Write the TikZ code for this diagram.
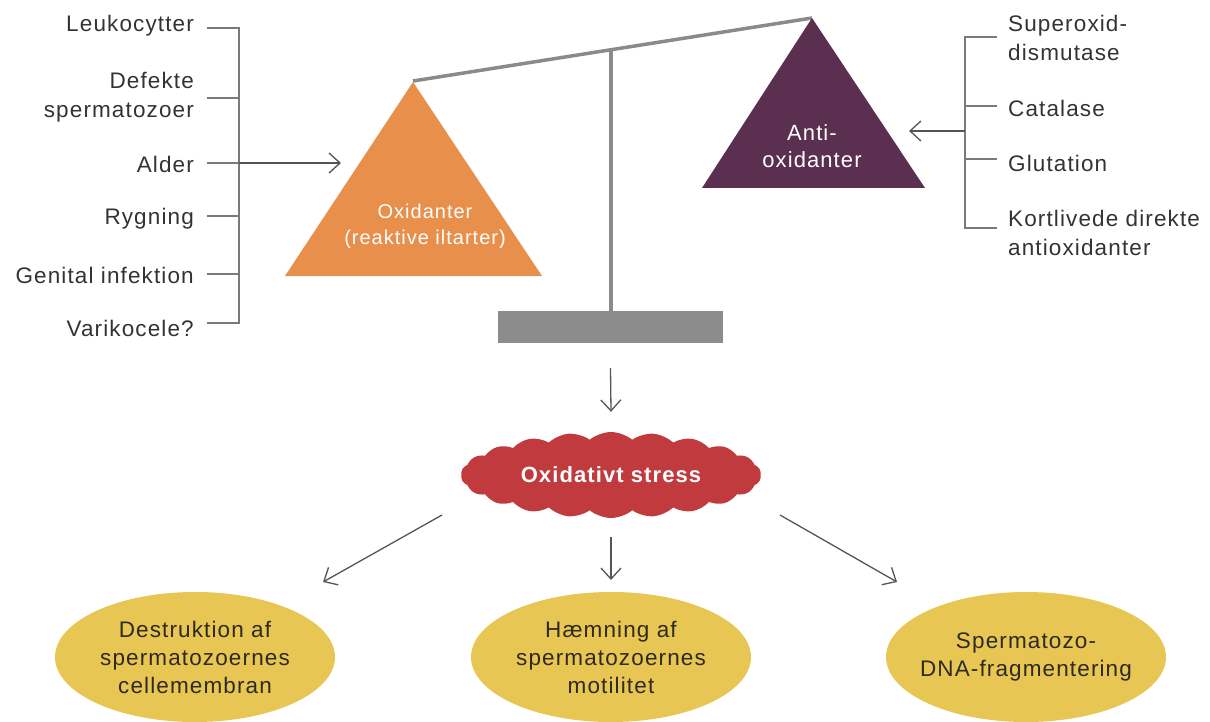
\documentclass[tikz,border=0pt]{standalone}
\usepackage{fontspec}
\setmainfont{Liberation Sans}[LetterSpace=5]
\usetikzlibrary{arrows.meta,shapes.symbols,shapes.geometric}
\definecolor{orng}{HTML}{E98F4C}
\definecolor{purp}{HTML}{5A2F50}
\definecolor{cloudred}{HTML}{C13B3E}
\definecolor{yel}{HTML}{E8C654}
\definecolor{beamgray}{HTML}{8A8A8A}
\definecolor{basegray}{HTML}{8C8C8C}
\definecolor{txt}{HTML}{333333}
\definecolor{etxt}{HTML}{2E2A1E}
\definecolor{brk}{HTML}{7A7A7A}
\definecolor{arrc}{HTML}{555555}
\begin{document}
\begin{tikzpicture}[x=1pt,y=-1pt,
  lbl/.style={font=\fontsize{22.5}{29}\selectfont, text=txt, inner sep=0pt},
  lbll/.style={lbl, anchor=east, align=right},
  lblr/.style={lbl, anchor=west, align=left},
  tritxt/.style={font=\fontsize{20}{26}\selectfont, text=white, align=center, inner sep=0pt},
  brace/.style={draw=brk, line width=1.3pt},
  arr/.style={draw=arrc, line width=1.3pt, -{Straight Barb[length=11pt,width=20pt,line width=1.3pt]}},
  effect/.style={ellipse, fill=yel, minimum width=280pt, minimum height=130pt, inner sep=0pt,
    align=center, text=etxt, font=\fontsize{22.5}{28}\selectfont},
  beam/.style={draw=beamgray, line width=3.5pt}]
\useasboundingbox (0,0) rectangle (1210,722);

% ---- left causes ----
\node[lbll] (leu) at (194,26) {Leukocytter};
\node[lbll] (def) at (194,97) {Defekte\\spermatozoer};
\node[lbll] (ald) at (194,164) {Alder};
\node[lbll] (ryg) at (194,219) {Rygning};
\node[lbll] (gen) at (194,275) {Genital infektion};
\node[lbll] (var) at (194,328) {Varikocele?};
\coordinate (lb1) at (239,28);
\coordinate (lb6) at (239,323);
\draw[brace] (207,28) -| (lb1) -- (lb6) -- (207,323);
\foreach \y in {98,163,216,274} \draw[brace] (207,\y) -- (239,\y);
\coordinate (lsrc) at (239,163);
\coordinate (ltip) at (341,163);
\draw[arr] (lsrc) -- (ltip);

% ---- balance ----
\coordinate (bl) at (413,81);
\coordinate (br) at (812,18);
\draw[beam] (bl) -- (br);
\draw[draw=beamgray, line width=3.5pt] (611,49) -- (611,312);
\node[fill=basegray, minimum width=225pt, minimum height=32pt, inner sep=0pt] (base) at (610.5,327) {};

\fill[orng] (413,82) -- (542,276) -- (285,276) -- cycle;
\node[tritxt] (ox) at (425,226) {Oxidanter\\(reaktive iltarter)};

\fill[purp] (812,18) -- (925,188) -- (702,188) -- cycle;
\node[tritxt, font=\fontsize{22}{27}\selectfont] (aox) at (812,146) {Anti-\\oxidanter};

% ---- right antioxidants ----
\node[lblr] (sod) at (1008,38) {Superoxid-\\dismutase};
\node[lblr] (cat) at (1008,108) {Catalase};
\node[lblr] (glu) at (1008,163) {Glutation};
\node[lblr] (kort) at (1008,233) {Kortlivede direkte\\antioxidanter};
\draw[brace] (997,37) -- (965,37) -- (965,228) -- (997,228);
\foreach \y in {106,159} \draw[brace] (965,\y) -- (997,\y);
\coordinate (rsrc) at (965,131);
\coordinate (rtip) at (909,131);
\draw[arr] (rsrc) -- (rtip);

% ---- oxidative stress ----
\node[cloud, cloud puffs=22, cloud puff arc=80, aspect=3.5, fill=cloudred,
  minimum width=300pt, minimum height=86pt, inner sep=0pt, text=white,
  font=\bfseries\fontsize{22}{26}\selectfont] (stress) at (611,475) {Oxidativt stress};
\draw[arr] ([yshift=-25pt]base.south) -- ([yshift=20pt]stress.north);

% ---- effects ----
\node[effect] (e1) at (195,657) {Destruktion af\\spermatozoernes\\cellemembran};
\node[effect] (e2) at (611,657) {Hæmning af\\spermatozoernes\\motilitet};
\node[effect, inner xsep=-12pt] (e3) at (1026,657) {Spermatozo-\\DNA-fragmentering};

\coordinate (a1) at (442,515);
\coordinate (a1t) at (323,582);
\draw[arr] (a1) -- (a1t);
\coordinate (a2) at (611,537);
\coordinate (a2t) at (611,580);
\draw[arr] (a2) -- (a2t);
\coordinate (a3) at (780,515);
\coordinate (a3t) at (897,582);
\draw[arr] (a3) -- (a3t);
\end{tikzpicture}
\end{document}
